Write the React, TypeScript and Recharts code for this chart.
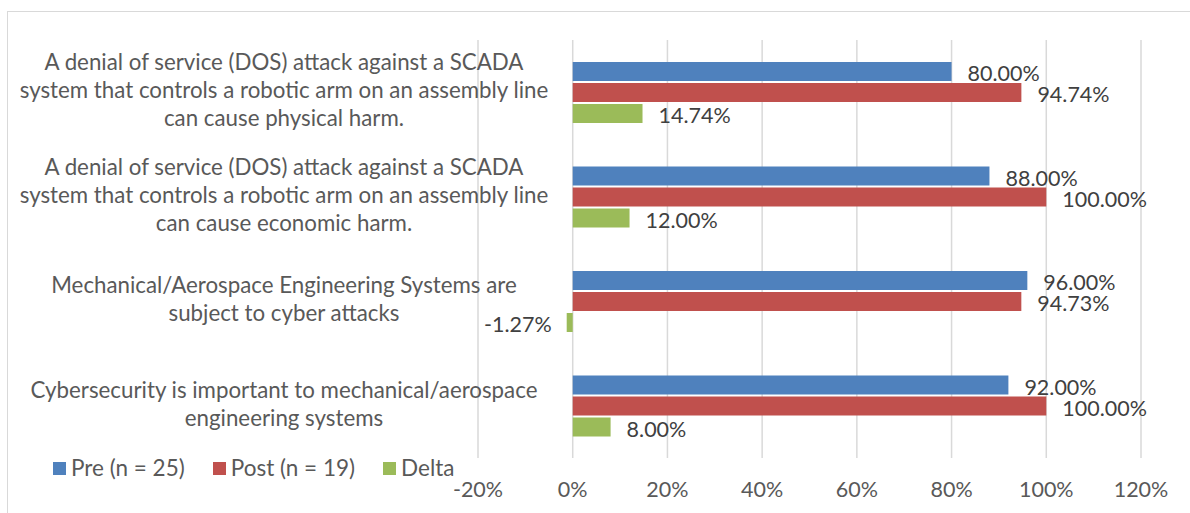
import React from 'react';
import { BarChart, Bar, XAxis, YAxis, CartesianGrid, LabelList } from 'recharts';

const categories = [
  ['A denial of service (DOS) attack against a SCADA', 'system that controls a robotic arm on an assembly line', 'can cause physical harm.'],
  ['A denial of service (DOS) attack against a SCADA', 'system that controls a robotic arm on an assembly line', 'can cause economic harm.'],
  ['Mechanical/Aerospace Engineering Systems are', 'subject to cyber attacks'],
  ['Cybersecurity is important to mechanical/aerospace', 'engineering systems'],
];
const preValues = [80.0, 88.0, 96.0, 92.0];
const postValues = [94.74, 100.0, 94.73, 100.0];
const deltaValues = [14.74, 12.0, -1.27, 8.0];
const xTicks = [-20, 0, 20, 40, 60, 80, 100, 120];

const seriesInfo = [
  { key: 'pre', name: 'Pre (n = 25)', color: '#4f81bd' },
  { key: 'post', name: 'Post (n = 19)', color: '#c0504d' },
  { key: 'delta', name: 'Delta', color: '#9bbb59' },
];

const data = categories.map((lines, i) => ({
  id: `c${i}`,
  lines,
  pre: preValues[i],
  post: postValues[i],
  delta: deltaValues[i],
}));

const FONT = 'Lato, "Open Sans", sans-serif';
const TEXT = '#595959';

function CategoryTick(props: any) {
  const { y, payload } = props;
  const row = data.find((d) => d.id === payload.value);
  const lines = row ? row.lines : [];
  const lh = 28;
  const top = y - 2 - ((lines.length - 1) * lh) / 2;
  return (
    <g>
      {lines.map((l: string, i: number) => (
        <text key={i} x={284} y={top + i * lh} dy="0.35em" textAnchor="middle" fill={TEXT} fontSize={22.3} fontFamily={FONT}>
          {l}
        </text>
      ))}
    </g>
  );
}

function ValueLabel(props: any) {
  const { x, y, width, height, value } = props;
  const neg = value < 0;
  const left = Math.min(x, x + width);
  const right = Math.max(x, x + width);
  const tx = neg ? left - 15 : right + 16;
  return (
    <text x={tx} y={y + height / 2 + 2} dy="0.35em" textAnchor={neg ? 'end' : 'start'} fill="#404040" fontSize={21.5} fontFamily={FONT}>
      {`${Number(value).toFixed(2)}%`}
    </text>
  );
}

// legend sits under the category labels, left of the axis ticks
function LegendBox() {
  return (
    <div style={{ position: 'absolute', left: 53, top: 455, display: 'flex', fontFamily: FONT, fontSize: 22.5, color: TEXT, lineHeight: '26px' }}>
      {seriesInfo.map((s) => (
        <div key={s.key} style={{ display: 'flex', alignItems: 'center', marginRight: 28 }}>
          <span style={{ width: 13, height: 13, background: s.color, marginRight: 5, display: 'inline-block' }} />
          <span>{s.name}</span>
        </div>
      ))}
    </div>
  );
}

export default function App() {
  return (
    <div style={{ position: 'fixed', left: 0, top: 0, width: 1190, height: 513, overflow: 'hidden', background: '#fff' }}>
      <div style={{ position: 'absolute', left: 7, top: 11, width: 1200, height: 520, border: '1px solid #d9d9d9' }} />
      <div style={{ position: 'absolute', left: 0, top: 0 }}>
        <BarChart
          width={1190}
          height={513}
          data={data}
          layout="vertical"
          margin={{ top: 40, right: 49, bottom: 0, left: 0 }}
          barSize={19}
          barGap={2}
        >
          <CartesianGrid horizontal={false} stroke="#d9d9d9" strokeWidth={1.5} />
          <XAxis
            type="number"
            domain={[-20, 120]}
            ticks={xTicks}
            tickFormatter={(v) => `${v}%`}
            axisLine={false}
            tickLine={false}
            tickSize={0}
            tickMargin={24}
            tick={{ fill: TEXT, fontSize: 21.5, fontFamily: FONT }}
            interval={0}
            height={55}
          />
          <YAxis type="category" dataKey="id" width={478} axisLine={false} tickLine={false} tick={<CategoryTick />} interval={0} />
          {seriesInfo.map((s) => (
            <Bar key={s.key} dataKey={s.key} name={s.name} fill={s.color} isAnimationActive={false}>
              <LabelList dataKey={s.key} content={<ValueLabel />} />
            </Bar>
          ))}
        </BarChart>
      </div>
      <LegendBox />
    </div>
  );
}
